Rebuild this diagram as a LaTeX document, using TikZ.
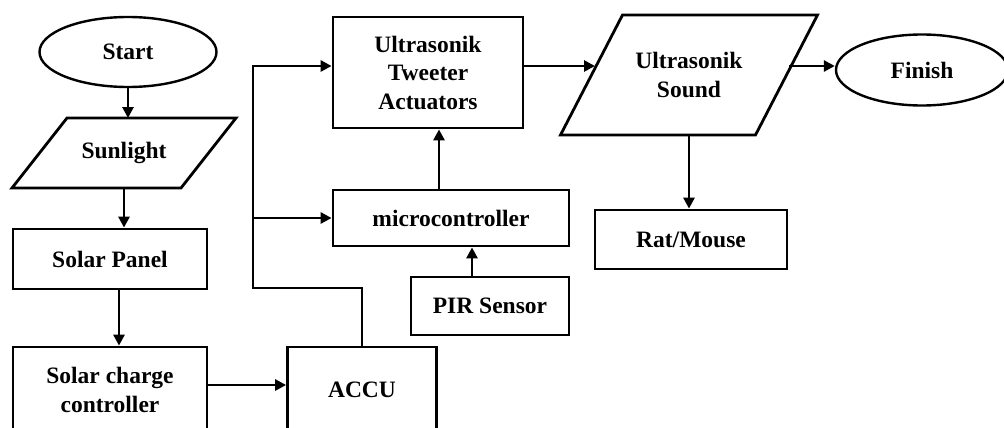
\documentclass[tikz,border=0pt]{standalone}
\usepackage{fontspec}
\setmainfont{Liberation Serif}
\usetikzlibrary{shapes.geometric,arrows.meta}

\begin{document}
\begin{tikzpicture}[x=1pt,y=-1pt,
    every node/.style={font=\fontsize{23.5}{28.5}\selectfont\bfseries,align=center,inner sep=0pt},
    blk/.style={draw,line width=2.8pt,minimum width=#1},
    term/.style={draw,ellipse,line width=2.4pt,minimum width=#1,minimum height=70pt},
    io/.style={outer sep=0pt,minimum width=#1},
    edge/.style={line width=2.8pt,line join=miter},
    arr/.style={edge,-{Triangle[length=11pt,width=11pt]}}]
\clip (0,0) rectangle (1004,428);
\fill[white] (0,0) rectangle (1004,428);

\node[term=177pt] (start) at (128,52) {Start};
\node[io=169pt,minimum height=70pt] (sun) at (124,153) {Sunlight};
\draw[edge] ([xshift=-27.5pt]sun.south west) -- ([xshift=-27.5pt]sun.south east) -- ([xshift=27.5pt]sun.north east) -- ([xshift=27.5pt]sun.north west) -- cycle;
\node[blk=194pt,minimum height=60pt] (panel) at (110,259) {Solar Panel};
\node[blk=194pt,minimum height=86pt] (scc) at (110,390) {Solar charge\\controller};
\node[blk=149pt,minimum height=86pt] (accu) at (362,390) {ACCU};
\node[blk=190pt,minimum height=111pt] (tweet) at (428,72.5) {Ultrasonik\\Tweeter\\Actuators};
\node[blk=236pt,minimum height=56pt] (mcu) at (451,218) {microcontroller};
\node[blk=158pt,minimum height=58pt] (pir) at (490,306) {PIR Sensor};
\node[io=195pt,minimum height=120pt] (sound) at (689,75) {Ultrasonik\\Sound};
\draw[edge] ([xshift=-31pt]sound.south west) -- ([xshift=-31pt]sound.south east) -- ([xshift=31pt]sound.north east) -- ([xshift=31pt]sound.north west) -- cycle;
\node[blk=192pt,minimum height=59pt] (rat) at (691,239.5) {Rat/Mouse};
\node[term=172pt,minimum height=71pt] (finish) at (922,70) {Finish};

\coordinate (bend) at (253,288);
\coordinate (soundin) at (595,66);
\coordinate (soundout) at (789,66);

\draw[arr] (start.south) -- (start.south |- sun.north);
\draw[arr] (sun.south) -- (sun.south |- panel.north);
\draw[arr] ([xshift=9pt]panel.south) -- ([xshift=9pt]panel.south |- scc.north);
\draw[arr] ([yshift=5pt]scc.east) -- ([yshift=5pt]scc.east -| accu.west);
\draw[arr] (accu.north) |- (bend) |- (tweet.west |- soundin);
\draw[arr] (bend |- mcu.west) -- (mcu.west);
\draw[arr] ([xshift=-18pt]pir.north) -- ([xshift=-18pt]pir.north |- mcu.south);
\draw[arr] ([xshift=-12pt]mcu.north) -- ([xshift=-12pt]mcu.north |- tweet.south);
\draw[arr] (tweet.east |- soundin) -- (soundin);
\draw[arr] (soundout) -- (soundout -| finish.west);
\draw[arr] (sound.south) -- (sound.south |- rat.north);
\end{tikzpicture}
\end{document}
